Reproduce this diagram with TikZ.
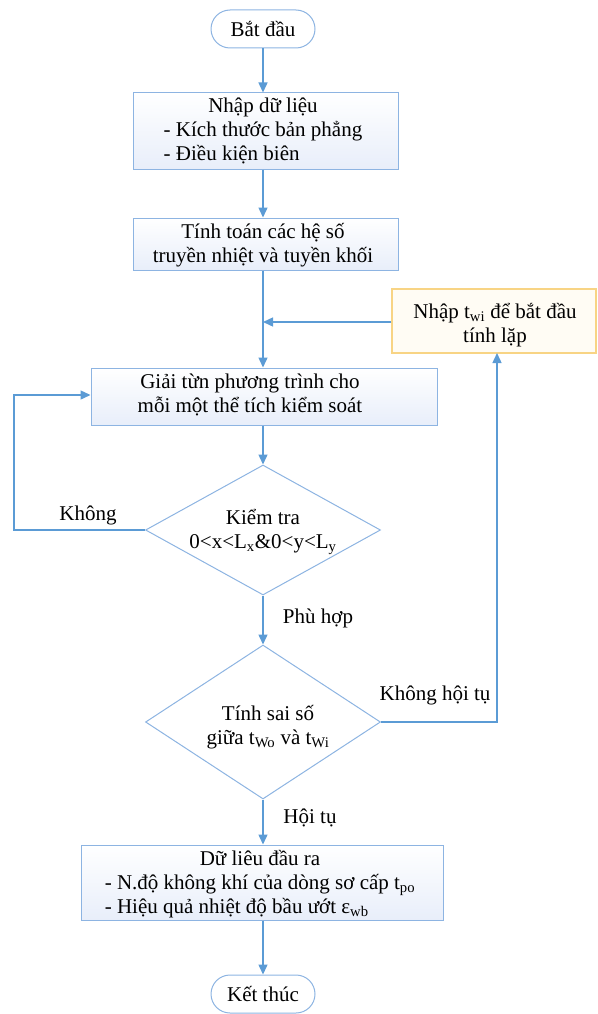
\documentclass[tikz,border=0pt]{standalone}
\usepackage{fontspec}
\setmainfont{Liberation Serif}
\usetikzlibrary{shapes.geometric,arrows.meta}
\definecolor{lineblue}{RGB}{91,155,213}
\definecolor{boxblue}{RGB}{141,180,226}
\definecolor{boxfill}{RGB}{232,238,250}
\definecolor{ybord}{RGB}{248,212,132}
\definecolor{yfill}{RGB}{255,252,244}
\tikzset{
  every node/.style={font=\fontsize{21}{24}\selectfont},
  conn/.style={draw=lineblue, line width=1.4pt},
  arr/.style={conn, -{Triangle[length=10pt,width=9pt]}},
  term/.style={draw=boxblue, line width=1pt, rounded corners=19pt, fill=white, minimum width=104pt, minimum height=38pt, inner sep=0pt},
  procbox/.style={draw=boxblue, line width=1pt, top color=white, bottom color=boxfill, inner sep=0pt},
  inbox/.style={draw=ybord, line width=1.2pt, fill=yfill, inner sep=0pt},
  decis/.style={diamond, draw=boxblue, line width=1pt, fill=white, minimum width=235pt, minimum height=130pt, inner sep=0pt},
  txt/.style={inner sep=0pt, align=center},
  lbl/.style={inner sep=0pt}
}
\begin{document}
\begin{tikzpicture}[x=1pt,y=-1pt]
\useasboundingbox (0,0) rectangle (597,1014);
% nodes
\node[term] (start) at (263,29) {Bắt đầu};
\node[procbox, minimum width=265pt, minimum height=76pt] (in) at (265.5,131) {};
\node[txt] (intxt) at (263,132) {\begin{tabular}{@{}l@{}}\multicolumn{1}{c}{Nhập dữ liệu}\\ - Kích thước bản phẳng\\ - Điều kiện biên\end{tabular}};
\node[procbox, minimum width=265pt, minimum height=52pt] (coef) at (265.5,244) {};
\node[txt] (coeftxt) at (263,245) {Tính toán các hệ số\\truyền nhiệt và tuyền khối};
\node[inbox, minimum width=204pt, minimum height=64pt] (rb) at (494,321) {};
\node[txt] (rbtxt) at (495,325) {Nhập t\textsubscript{wi} để bắt đầu\\tính lặp};
\node[procbox, minimum width=346pt, minimum height=57pt] (solve) at (264,396.5) {};
\node[txt] (solvetxt) at (250,395) {Giải từn phương trình cho\\mỗi một thể tích kiểm soát};
\node[decis] (d1) at (263,530) {};
\node[txt] (d1txt) at (263,532) {Kiểm tra\\0<x<L\textsubscript{x}\&0<y<L\textsubscript{y}};
\node[decis, minimum height=154pt] (d2) at (263,722) {};
\node[txt] (d2txt) at (268,727) {Tính sai số\\ giữa t\textsubscript{Wo} và t\textsubscript{Wi}};
\node[procbox, minimum width=362pt, minimum height=75pt] (out) at (262,882.5) {};
\node[txt] (outtxt) at (260,885) {\begin{tabular}{@{}l@{}}\multicolumn{1}{c}{Dữ liêu đầu ra}\\ - N.độ không khí của dòng sơ cấp t\textsubscript{po}\\ - Hiệu quả nhiệt độ bầu ướt ε\textsubscript{wb}\end{tabular}};
\node[term] (end) at (263,994) {Kết thúc};
% labels
\node[lbl] (lno) at (88,515) {Không};
\node[lbl] (lok) at (318,618) {Phù hợp};
\node[lbl] (lnc) at (435,695) {Không hội tụ};
\node[lbl] (lc) at (310,818) {Hội tụ};
% coordinates
\coordinate (j) at (263,322);
\coordinate (lc1) at (14,530);
\coordinate (lc2) at (14,395);
\coordinate (rc1) at (497,722);
\coordinate (rc2) at (497,353);
% connectors
\draw[arr] (start.south) -- (start.south |- in.north);
\draw[arr] (start.south |- in.south) -- (start.south |- coef.north);
\draw[arr] (start.south |- coef.south) -- (start.south |- solve.north);
\draw[arr] (rb.west |- j) -- (j);
\draw[arr] (start.south |- solve.south) -- (d1.north);
\draw[arr] (d1.south) -- (d2.north);
\draw[arr] (d2.south) -- (start.south |- out.north);
\draw[arr] (start.south |- out.south) -- (end);
\draw[arr] (d1.west) -- (lc1) -- (lc2) -- (solve.west |- lc2);
\draw[arr] (d2.east) -- (rc1) -- (rc2);
\end{tikzpicture}
\end{document}
